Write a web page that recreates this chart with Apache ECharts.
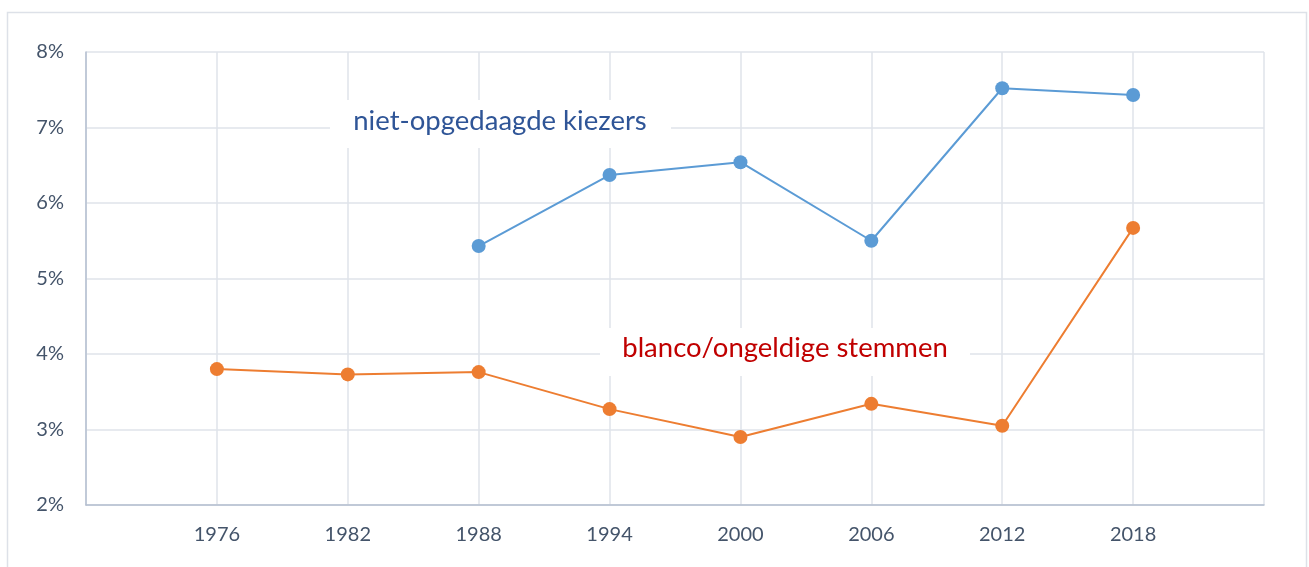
<!DOCTYPE html>
<html>
<head>
<meta charset="utf-8">
<script src="https://cdn.jsdelivr.net/npm/echarts@6/dist/echarts.min.js"></script>
<style>
    html, body { margin: 0; padding: 0; background: #ffffff; }
    #chart { width: 1309px; height: 567px; }
</style>
</head>
<body>
<div id="chart"></div>
<script>
    // jaartallen van de verkiezingen
    const years = ['1976', '1982', '1988', '1994', '2000', '2006', '2012', '2018'];
    // percentages (%)
    const nietOpgedaagd = [null, null, 5.43, 6.37, 6.54, 5.50, 7.52, 7.43];
    const blancoOngeldig = [3.80, 3.73, 3.76, 3.27, 2.90, 3.34, 3.05, 5.67];
    const yTicks = [2, 3, 4, 5, 6, 7, 8];

    // lege categorie links en rechts zodat de as breder is dan de data
    const axisData = [''].concat(years, ['']);
    const pad = arr => [null].concat(arr, [null]);

    const font = 'Lato, "Open Sans", sans-serif';
    const chart = echarts.init(document.getElementById('chart'));

    chart.setOption({
        animation: false,
        grid: { left: 86, right: 45, top: 52, bottom: 62 },
        xAxis: {
            type: 'category',
            data: axisData,
            boundaryGap: false,
            axisLine: { lineStyle: { color: '#b4bfd0', width: 1.5 } },
            axisTick: { show: false },
            axisLabel: { color: '#44546a', fontSize: 20, fontFamily: font, margin: 20, interval: 0 },
            splitLine: { show: true, lineStyle: { color: '#dfe3ea', width: 1.5 } }
        },
        yAxis: {
            type: 'value',
            min: yTicks[0],
            max: yTicks[yTicks.length - 1],
            interval: 1,
            axisLine: { show: true, lineStyle: { color: '#b4bfd0', width: 1.5 } },
            axisTick: { show: false },
            axisLabel: { color: '#44546a', fontSize: 20, fontFamily: font, margin: 22, formatter: '{value}%' },
            splitLine: { lineStyle: { color: '#dfe3ea', width: 1.5 } }
        },
        series: [
            {
                name: 'niet-opgedaagde kiezers',
                type: 'line',
                data: pad(nietOpgedaagd),
                symbol: 'circle',
                symbolSize: 14,
                lineStyle: { color: '#5b9bd5', width: 2 },
                itemStyle: { color: '#5b9bd5' }
            },
            {
                name: 'blanco/ongeldige stemmen',
                type: 'line',
                data: pad(blancoOngeldig),
                symbol: 'circle',
                symbolSize: 14,
                lineStyle: { color: '#ed7d31', width: 2 },
                itemStyle: { color: '#ed7d31' }
            }
        ],
        graphic: [
            // kader rond de grafiek
            {
                type: 'rect', silent: true, z: -10,
                shape: { x: 7.5, y: 12.5, width: 1299, height: 570 },
                style: { fill: 'none', stroke: '#dde1e8', lineWidth: 1.5 }
            },
            // labels met witte achtergrond
            {
                type: 'rect', silent: true, z: 50,
                shape: { x: 330, y: 100, width: 341, height: 48 },
                style: { fill: '#ffffff' }
            },
            {
                type: 'text', silent: true, z: 51,
                x: 500, y: 121,
                style: {
                    text: 'niet-opgedaagde kiezers', fill: '#2f5597',
                    font: '27.5px ' + font, align: 'center', verticalAlign: 'middle'
                }
            },
            {
                type: 'rect', silent: true, z: 50,
                shape: { x: 600, y: 328, width: 370, height: 48 },
                style: { fill: '#ffffff' }
            },
            {
                type: 'text', silent: true, z: 51,
                x: 785, y: 348,
                style: {
                    text: 'blanco/ongeldige stemmen', fill: '#c00000',
                    font: '27.5px ' + font, align: 'center', verticalAlign: 'middle'
                }
            }
        ]
    });
</script>
</body>
</html>
